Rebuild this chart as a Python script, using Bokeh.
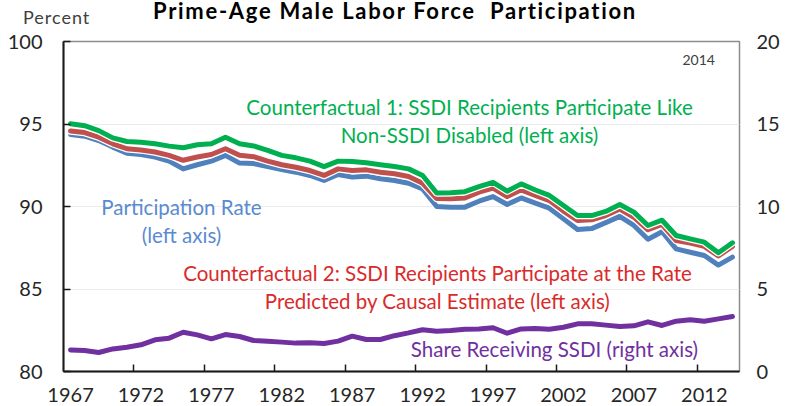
from bokeh.plotting import figure
from bokeh.models import Range1d, LinearAxis, FixedTicker, Label, Div
from bokeh.layouts import column
from bokeh.embed import file_html
from bokeh.resources import INLINE

years = list(range(1967, 2015))

participation_rate = [
    94.36, 94.26, 94.00, 93.60, 93.23, 93.15, 93.00, 92.75, 92.28, 92.53,
    92.75, 93.10, 92.63, 92.60, 92.42, 92.24, 92.08, 91.88, 91.58, 91.94,
    91.78, 91.84, 91.68, 91.58, 91.41, 91.07, 90.00, 89.96, 89.96, 90.32,
    90.60, 90.12, 90.52, 90.20, 89.90, 89.25, 88.60, 88.66, 89.02, 89.40,
    88.85, 88.02, 88.47, 87.43, 87.23, 87.03, 86.45, 86.93]

counterfactual_2 = [
    94.57, 94.48, 94.20, 93.80, 93.50, 93.43, 93.30, 93.10, 92.80, 93.00,
    93.15, 93.50, 93.10, 93.02, 92.75, 92.53, 92.38, 92.18, 91.88, 92.28,
    92.18, 92.22, 92.08, 91.98, 91.82, 91.41, 90.48, 90.47, 90.52, 90.87,
    91.12, 90.60, 91.01, 90.67, 90.36, 89.72, 89.15, 89.19, 89.45, 89.85,
    89.35, 88.59, 88.91, 87.94, 87.78, 87.58, 87.00, 87.58]

counterfactual_1 = [
    95.01, 94.90, 94.60, 94.16, 93.94, 93.90, 93.80, 93.66, 93.56, 93.74,
    93.80, 94.20, 93.80, 93.67, 93.40, 93.10, 92.95, 92.75, 92.42, 92.75,
    92.73, 92.65, 92.53, 92.42, 92.28, 91.88, 90.82, 90.83, 90.90, 91.20,
    91.46, 90.93, 91.37, 91.00, 90.67, 90.06, 89.45, 89.45, 89.70, 90.12,
    89.66, 88.85, 89.17, 88.24, 88.04, 87.84, 87.20, 87.80]

ssdi_share = [
    1.31, 1.27, 1.15, 1.37, 1.47, 1.62, 1.92, 2.02, 2.38, 2.22,
    1.98, 2.24, 2.12, 1.88, 1.84, 1.78, 1.72, 1.74, 1.70, 1.84,
    2.14, 1.94, 1.94, 2.17, 2.34, 2.53, 2.44, 2.48, 2.56, 2.58,
    2.65, 2.32, 2.58, 2.61, 2.56, 2.68, 2.89, 2.89, 2.81, 2.73,
    2.77, 3.01, 2.79, 3.05, 3.13, 3.05, 3.19, 3.33]

x_tick_labels = [1967, 1972, 1977, 1982, 1987, 1992, 1997, 2002, 2007, 2012]
left_ticks = [80, 85, 90, 95, 100]
right_ticks = [0, 5, 10, 15, 20]

TITLE = "Prime-Age Male Labor Force&nbsp; Participation"
UNIT = "Percent"

FONT = "Lato"
GREEN = "#00b050"
RED = "#c0504d"
BLUE = "#4f81bd"
PURPLE = "#7030a0"
RED_TEXT = "#d92b2b"
BLUE_TEXT = "#5a8ad0"
AXIS_TEXT = "#262626"
ANN_SIZE = "20.5px"

W = 786
HEAD_H = 25

# ---- header strip: title and unit label ----
header_html = (
    f'<div style="position:relative;width:{W}px;height:{HEAD_H}px;font-family:{FONT};">'
    f'<span style="position:absolute;left:23px;top:8px;font-size:18px;line-height:18px;'
    f'letter-spacing:1px;color:#404040;white-space:nowrap;">{UNIT}</span>'
    f'<span style="position:absolute;left:4px;width:782px;top:0px;text-align:center;'
    f'font-size:22px;line-height:22px;font-weight:bold;letter-spacing:1.7px;color:#000000;'
    f'white-space:nowrap;">{TITLE}</span>'
    '</div>')
head = Div(text=header_html, width=W, height=HEAD_H, margin=0)

# ---- main chart ----
p = figure(width=W, height=406 - HEAD_H, output_backend="svg", toolbar_location=None,
           x_range=Range1d(1966.5, 2014.5), y_range=Range1d(80, 100),
           min_border_left=63, min_border_right=47, min_border_top=41 - HEAD_H,
           min_border_bottom=35)
p.title = None
p.extra_y_ranges = {"right": Range1d(0, 20)}

p.outline_line_color = "#8c8c8c"
p.outline_line_width = 1.5
p.background_fill_color = "white"
p.border_fill_color = "white"

xa = p.xaxis[0]
xa.ticker = FixedTicker(ticks=x_tick_labels, minor_ticks=[t - 0.5 for t in x_tick_labels[1:]])
xa.major_tick_line_color = None
xa.minor_tick_in = 7
xa.minor_tick_out = 0
xa.minor_tick_line_color = "#1a1a1a"
xa.minor_tick_line_width = 1.5
xa.axis_line_color = "#1a1a1a"
xa.axis_line_width = 2
xa.major_label_text_font = FONT
xa.major_label_text_font_size = "20px"
xa.major_label_text_color = AXIS_TEXT
xa.major_label_standoff = 10

ya = p.yaxis[0]
ya.ticker = FixedTicker(ticks=left_ticks)
ya.major_tick_in = 7
ya.major_tick_out = 0
ya.major_tick_line_color = "#1a1a1a"
ya.major_tick_line_width = 1.5
ya.minor_tick_line_color = None
ya.axis_line_color = "#1a1a1a"
ya.axis_line_width = 2
ya.major_label_text_font = FONT
ya.major_label_text_font_size = "20px"
ya.major_label_text_color = AXIS_TEXT
ya.major_label_standoff = 21

ra = LinearAxis(y_range_name="right", ticker=FixedTicker(ticks=right_ticks))
ra.axis_line_color = None
ra.major_tick_line_color = None
ra.minor_tick_line_color = None
ra.major_label_text_font = FONT
ra.major_label_text_font_size = "20px"
ra.major_label_text_color = AXIS_TEXT
ra.major_label_standoff = 11
p.add_layout(ra, "right")

p.xgrid.grid_line_color = None
p.ygrid.ticker = FixedTicker(ticks=left_ticks)
p.ygrid.grid_line_color = "#ebebeb"
p.ygrid.grid_line_width = 1

for vals, col in [(participation_rate, BLUE), (counterfactual_2, RED), (counterfactual_1, GREEN)]:
    p.line(years, vals, line_color="white", line_width=7.5, line_join="round", line_cap="round")
    p.line(years, vals, line_color=col, line_width=5, line_join="round", line_cap="round")

p.line(years, ssdi_share, y_range_name="right", line_color="white", line_width=7.5,
       line_join="round", line_cap="round")
p.line(years, ssdi_share, y_range_name="right", line_color=PURPLE, line_width=5,
       line_join="round", line_cap="round")


def lab(x, y, text, color, size=ANN_SIZE, y_range_name=None):
    kw = {"y_range_name": y_range_name} if y_range_name else {}
    p.add_layout(Label(x=x, y=y, text=text, text_color=color, text_font=FONT,
                       text_font_size=size, text_align="center", text_baseline="middle", **kw))


lab(1995.33, 96.06, "Counterfactual 1: SSDI Recipients Participate Like", GREEN)
lab(1995.33, 94.36, "Non-SSDI Disabled (left axis)", GREEN)
lab(1974.88, 89.94, "Participation Rate", BLUE_TEXT)
lab(1974.88, 88.30, "(left axis)", BLUE_TEXT)
lab(1993.06, 85.94, "Counterfactual 2: SSDI Recipients Participate at the Rate", RED_TEXT)
lab(1993.06, 84.30, "Predicted by Causal Estimate (left axis)", RED_TEXT)
lab(2001.36, 1.39, "Share Receiving SSDI (right axis)", PURPLE, y_range_name="right")
lab(2011.6, 98.85, "2014", "#404040", size="14px")

layout = column(head, p, spacing=0)
open("out.html", "w").write(file_html(layout, INLINE))
